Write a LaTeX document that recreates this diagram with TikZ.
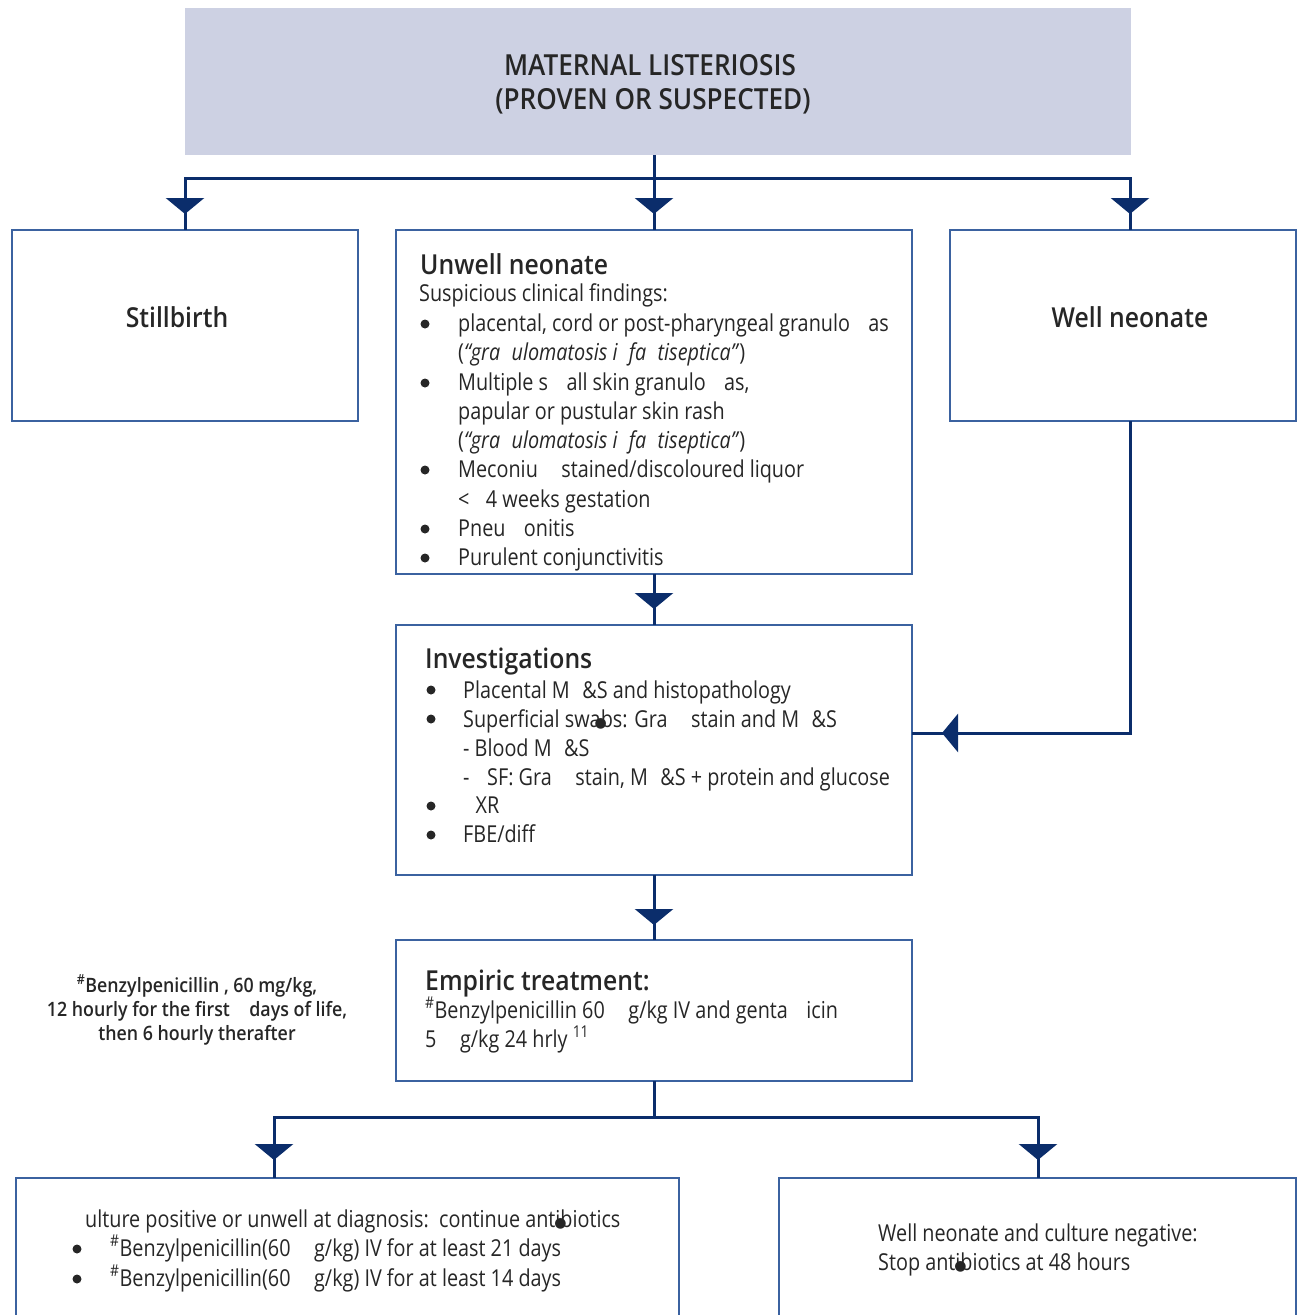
\documentclass[tikz,border=0pt]{standalone}
\usepackage{fontspec}
\setmainfont{Open Sans}[FakeStretch=0.85]
% medium-weight face for headings, falling back to bold
\IfFontExistsTF{Open Sans SemiBold}{%
  \newfontfamily\medf{Open Sans SemiBold}[FakeStretch=0.9]}{%
 \IfFontExistsTF{Open Sans Semibold}{%
  \newfontfamily\medf{Open Sans Semibold}[FakeStretch=0.9]}{%
  \IfFontExistsTF{OpenSans-Semibold.ttf}{%
   \newfontfamily\medf{OpenSans-Semibold.ttf}[FakeStretch=0.9]}{%
   \newfontfamily\medf{Open Sans}[FakeStretch=0.87,UprightFont=*,UprightFeatures={FakeBold=2}]}}}
\newfontfamily\symf{DejaVu Sans}
\usetikzlibrary{arrows.meta,decorations.markings}
\definecolor{navy}{HTML}{0B2D6B}
\definecolor{edgeblue}{HTML}{3B62A0}
\definecolor{lav}{HTML}{CDD1E3}
\definecolor{ink}{HTML}{262626}
\newcommand\bodyf{\fontsize{23.3}{29}\selectfont}
\newcommand\headf{\medf\fontsize{27.5}{31}\selectfont}
\newcommand\notef{\medf\fontsize{19.8}{24}\selectfont}
\newcommand\titlef{\medf\fontsize{29}{34}\selectfont}
\newcommand\gap[1]{\phantom{#1}}
\newcommand\blot{\makebox[0pt]{\symf\fontsize{14}{14}\selectfont ●}}
\tikzset{
  frame/.style={draw=edgeblue, line width=1.5pt, inner sep=0pt, outer sep=0pt, anchor=north west},
  conn/.style={draw=navy, line width=3pt},
  midtip/.style={postaction={decorate}, decoration={markings,
      mark=at position -#1 with {\arrow{Triangle[width=38pt,length=16pt]}}}},
  ln/.style={anchor=base west, inner sep=0pt, font=\bodyf, text=ink},
  hd/.style={anchor=base west, inner sep=0pt, font=\headf, text=ink},
  ctr/.style={anchor=base, inner sep=0pt, text=ink},
  bul/.style={circle, fill=ink, inner sep=0pt, minimum size=9pt},
}
\begin{document}
\begin{tikzpicture}[x=1pt,y=-1pt]
\useasboundingbox (0,0) rectangle (1303,1315);
\clip (0,0) rectangle (1303,1315);

% boxes
\node[anchor=north west, fill=lav, inner sep=0pt, minimum width=946pt, minimum height=147pt] (top) at (185,8) {};
\node[frame, minimum width=346pt, minimum height=191pt] (still) at (12,230) {};
\node[frame, minimum width=516pt, minimum height=344pt] (unwell) at (396,230) {};
\node[frame, minimum width=346pt, minimum height=191pt] (well) at (950,230) {};
\node[frame, minimum width=516pt, minimum height=250pt] (inv) at (396,625) {};
\node[frame, minimum width=516pt, minimum height=141pt] (emp) at (396,940) {};
\node[frame, minimum width=663pt, minimum height=160pt] (bl) at (16,1178) {};
\node[frame, minimum width=517pt, minimum height=160pt] (br) at (779,1178) {};

% connectors
\coordinate (jm) at (654,178);
\coordinate (jr) at (1130,178);
\coordinate (wk) at (1130,733);
\coordinate (bj) at (654,1117);
\coordinate (bjl) at (274,1117);
\coordinate (bjr) at (1038,1117);
\draw[conn, midtip=16pt] (top.south -| unwell.north) -- (unwell.north);
\draw[conn, midtip=16pt] (jm) -| (still.north);
\draw[conn, midtip=16pt] (jm) -- (jr) -- (jr |- well.north);
\draw[conn, midtip=16pt] (unwell.south) -- (inv.north);
\draw[conn, midtip=30pt] (jr |- well.south) -- (wk) -- (wk -| inv.east);
\draw[conn, midtip=15pt] (inv.south) -- (emp.north);
\draw[conn, midtip=18pt] (emp.south) -- (bj) -- (bjl) -- (bjl |- bl.north);
\draw[conn, midtip=18pt] (bj) -- (bjr) -- (bjr |- br.north);

% title
\node[ctr, font=\titlef] (t1) at (650,75) {MATERNAL LISTERIOSIS};
\node[ctr, font=\titlef] (t2) at (653,109) {(PROVEN OR SUSPECTED)};

% side boxes
\node[ctr, font=\headf] (stl) at (177,327) {Stillbirth};
\node[ctr, font=\headf] (wll) at (1130,327) {Well neonate};

% unwell neonate
\node[hd] (uh) at (420,274) {Unwell neonate};
\node[ln] (u0) at (419,301) {Suspicious clinical findings:};
\node[bul] (ub1) at (425,324) {};
\node[ln] (u1) at (458,331) {placental, cord or post-pharyngeal granulo\gap{m}as};
\node[ln] (u2) at (458,360) {(\textit{“gra\gap{n}ulomatosis i\gap{n}fa\gap{n}tiseptica”})};
\node[bul] (ub3) at (425,383) {};
\node[ln] (u3) at (458,390) {Multiple s\gap{m}all skin granulo\gap{m}as,};
\node[ln] (u4) at (458,419) {papular or pustular skin rash};
\node[ln] (u5) at (458,448) {(\textit{“gra\gap{n}ulomatosis i\gap{n}fa\gap{n}tiseptica”})};
\node[bul] (ub6) at (425,470) {};
\node[ln] (u6) at (458,477) {Meconiu\gap{m} stained/discoloured liquor};
\node[ln] (u7) at (458,507) {< \gap{3}4 weeks gestation};
\node[bul] (ub8) at (425,529) {};
\node[ln] (u8) at (458,536) {Pneu\gap{m}onitis};
\node[bul] (ub9) at (425,558) {};
\node[ln] (u9) at (458,565) {Purulent conjunctivitis};

% investigations
\node[hd] (ih) at (425,668) {Investigations};
\node[bul] (ib1) at (431,690) {};
\node[ln] (i1) at (463,698) {Placental M\gap{C}\&S and histopathology};
\node[bul] (ib2) at (431,719) {};
\node[ln] (i2) at (463,727) {Superficial swa\blot bs: Gra\gap{m} stain and M\gap{C}\&S};
\node[ln] (i3) at (463,756) {- Blood M\gap{C}\&S};
\node[ln] (i4) at (463,785) {- \gap{C}SF: Gra\gap{m} stain, M\gap{C}\&S + protein and glucose};
\node[bul] (ib5) at (431,806) {};
\node[ln] (i5) at (463,813) {\gap{C}XR};
\node[bul] (ib6) at (431,835) {};
\node[ln] (i6) at (463,842) {FBE/diff};

% empiric treatment
\node[hd] (eh) at (425,990) {Empiric treatment:};
\node[ln] (e1) at (425,1018) {\textsuperscript{\#}Benzylpenicillin 60 \gap{m}g/kg IV and genta\gap{m}icin};
\node[ln] (e2) at (425,1047) {5 \gap{m}g/kg 24 hrly \textsuperscript{11}};

% dosing note
\node[ctr, font=\notef] (n1) at (197,992) {\textsuperscript{\#}Benzylpenicillin , 60 mg/kg,};
\node[ctr, font=\notef] (n2) at (197,1016) {12 hourly for the first \gap{7} days of life,};
\node[ctr, font=\notef] (n3) at (197,1040) {then 6 hourly therafter};

% outcomes
\node[ln] (l0) at (85,1227) {ulture positive or unwell at diagnosis:\ \ continue anti\blot biotics};
\node[bul] (lb1) at (77,1249) {};
\node[ln] (l1) at (110,1256) {\textsuperscript{\#}Benzylpenicillin(60 \gap{m}g/kg) IV for at least 21 days};
\node[bul] (lb2) at (77,1279) {};
\node[ln] (l2) at (110,1286) {\textsuperscript{\#}Benzylpenicillin(60 \gap{m}g/kg) IV for at least 14 days};
\node[ln] (r1) at (878,1241) {Well neonate and culture negative:};
\node[ln] (r2) at (878,1270) {Stop anti\blot biotics at 48 hours};
\end{tikzpicture}
\end{document}
